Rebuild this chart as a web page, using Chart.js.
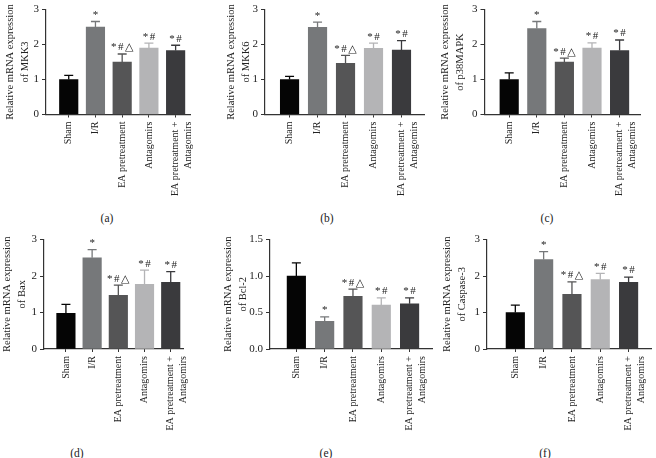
<!DOCTYPE html>
<html lang="en">
  <head>
    <meta charset="UTF-8" />
    <title>mRNA expression</title>
    <script src="https://cdn.jsdelivr.net/npm/chart.js@4.4.1/dist/chart.umd.min.js"></script>
    <style>
      body {
        margin: 0;
        width: 656px;
        height: 458px;
        overflow: hidden;
        position: relative;
        background: #fff;
        font-family: "Liberation Serif", serif;
      }
      canvas {
        position: absolute;
      }
      .tag {
        position: absolute;
        font-size: 11.5px;
        line-height: 12px;
        color: #222;
        transform: translateX(-50%);
      }
    </style>
  </head>
  <body>
    <div class="tag" style="left: 107px; top: 212px">(a)</div>
    <div class="tag" style="left: 327px; top: 212px">(b)</div>
    <div class="tag" style="left: 547px; top: 212px">(c)</div>
    <div class="tag" style="left: 77px; top: 447px">(d)</div>
    <div class="tag" style="left: 326px; top: 447px">(e)</div>
    <div class="tag" style="left: 545px; top: 447px">(f)</div>

    <script>
      // groups on the x axis
      const groups = [
        "Sham",
        "I/R",
        "EA pretreatment",
        "Antagomirs",
        ["EA pretreatment +", "Antagomirs"],
      ];
      const marks = ["", "*", "*#\u25B3", "*#", "*#"];

      // mean and error (upper bar) per gene
      const mkk3 = [1.0, 2.5, 1.5, 1.9, 1.83];
      const mkk3Err = [0.12, 0.16, 0.23, 0.14, 0.15];
      const mkk6 = [1.0, 2.49, 1.46, 1.89, 1.84];
      const mkk6Err = [0.09, 0.15, 0.23, 0.15, 0.27];
      const p38 = [1.0, 2.46, 1.5, 1.9, 1.83];
      const p38Err = [0.19, 0.2, 0.11, 0.15, 0.3];
      const bax = [0.98, 2.5, 1.47, 1.77, 1.83];
      const baxErr = [0.24, 0.22, 0.28, 0.39, 0.29];
      const bcl2 = [1.0, 0.38, 0.72, 0.6, 0.62];
      const bcl2Err = [0.18, 0.06, 0.1, 0.1, 0.08];
      const casp3 = [1.0, 2.45, 1.5, 1.9, 1.83];
      const casp3Err = [0.2, 0.22, 0.34, 0.17, 0.14];

      const yMaxes = [3, 3, 3, 3, 1.5, 3];
      const ySteps = [1, 1, 1, 1, 0.5, 1];

      const barColors = ["#050505", "#76787a", "#555556", "#b4b4b6", "#3a3a3d"];
      const ink = "#222";
      const serif = "'Liberation Serif', 'DejaVu Serif', serif";

      // page geometry of each panel: canvas left/top/height, y axis x, axis end, plot top/bottom, first/last bar centre
      const panels = [
        { id: "MKK3", mean: mkk3, err: mkk3Err, L: 1.5, T: 0, H: 210, ax: 45.5, right: 200.7, top: 4, bottom: 114.5, first: 70, last: 185.2 },
        { id: "MKK6", mean: mkk6, err: mkk6Err, L: 223, T: 0, H: 210, ax: 265, right: 427.5, top: 4, bottom: 114.5, first: 290, last: 404 },
        { id: "p38MAPK", mean: p38, err: p38Err, L: 437, T: 0, H: 210, ax: 484.5, right: 646, top: 4, bottom: 114.5, first: 510, last: 624 },
        { id: "Bax", mean: bax, err: baxErr, L: -1.5, T: 229, H: 229, ax: 43.5, right: 196.5, top: 239.5, bottom: 349, first: 67.5, last: 182.2 },
        { id: "Bcl-2", mean: bcl2, err: bcl2Err, L: 220, T: 229, H: 229, ax: 270, right: 436, top: 239.5, bottom: 349, first: 297, last: 413 },
        { id: "Caspase-3", mean: casp3, err: casp3Err, L: 439, T: 229, H: 229, ax: 487, right: 655, top: 239.5, bottom: 349, first: 516, last: 632 },
      ];

      // error bars + significance marks
      const errorBars = {
        id: "errorBars",
        afterDatasetsDraw(chart) {
          const { ctx } = chart;
          const y = chart.scales.y;
          const ds = chart.data.datasets[0];
          chart.getDatasetMeta(0).data.forEach((bar, i) => {
            const v = ds.data[i].y;
            const top = y.getPixelForValue(v + ds.err[i]);
            ctx.save();
            ctx.strokeStyle = barColors[i];
            ctx.lineWidth = 1.3;
            ctx.beginPath();
            ctx.moveTo(bar.x, bar.y);
            ctx.lineTo(bar.x, top);
            ctx.moveTo(bar.x - 4.5, top);
            ctx.lineTo(bar.x + 4.5, top);
            ctx.stroke();
            ctx.fillStyle = ink;
            ctx.font = "11px " + serif;
            ctx.letterSpacing = "1.5px";
            ctx.textAlign = "center";
            ctx.textBaseline = "bottom";
            ctx.fillText(marks[i], bar.x + 0.75, top - 1);
            ctx.restore();
          });
        },
      };

      panels.forEach((p, k) => {
        const canvas = document.createElement("canvas");
        const W = Math.ceil(p.right - p.L + 3);
        canvas.width = W;
        canvas.height = p.H;
        canvas.style.left = p.L + "px";
        canvas.style.top = p.T + "px";
        document.body.appendChild(canvas);

        const step = (p.last - p.first) / (groups.length - 1);

        new Chart(canvas, {
          type: "bar",
          data: {
            datasets: [
              {
                data: p.mean.map((v, i) => ({ x: i, y: v })),
                err: p.err,
                backgroundColor: barColors,
                borderWidth: 0,
                barThickness: 18.5,
              },
            ],
          },
          options: {
            responsive: false,
            animation: false,
            devicePixelRatio: 1,
            layout: {
              padding: { left: 0, top: p.top - p.T, right: W - (p.right - p.L), bottom: 0 },
            },
            plugins: { legend: { display: false }, tooltip: { enabled: false } },
            scales: {
              x: {
                type: "linear",
                offset: false,
                min: -(p.first - p.ax) / step,
                max: groups.length - 1 + (p.right - p.last) / step,
                afterBuildTicks: (s) => {
                  s.ticks = groups.map((g, i) => ({ value: i }));
                },
                afterFit: (s) => {
                  s.height = p.H - (p.bottom - p.T);
                },
                grid: {
                  offset: false,
                  drawOnChartArea: false,
                  tickLength: 3,
                  color: "#333",
                },
                border: { color: "#333", width: 1.2 },
                ticks: {
                  autoSkip: false,
                  minRotation: 90,
                  maxRotation: 90,
                  padding: 4,
                  color: ink,
                  font: { family: serif, size: 10, lineHeight: 1.25 },
                  callback: (v) => groups[v],
                },
              },
              y: {
                min: 0,
                max: yMaxes[k],
                afterFit: (s) => {
                  s.width = p.ax - p.L;
                },
                grid: {
                  drawOnChartArea: false,
                  tickLength: 4,
                  color: "#333",
                },
                border: { color: "#333", width: 1.2 },
                ticks: {
                  stepSize: ySteps[k],
                  padding: 3,
                  color: ink,
                  font: { family: serif, size: 11 },
                  callback: (v) => (ySteps[k] < 1 ? v.toFixed(1) : v),
                },
                title: {
                  display: true,
                  text: ["Relative mRNA expression", "of " + p.id],
                  color: ink,
                  padding: 0,
                  font: { family: serif, size: 10.5, lineHeight: 1.48 },
                },
              },
            },
          },
          plugins: [errorBars],
        });
      });
    </script>
  </body>
</html>
